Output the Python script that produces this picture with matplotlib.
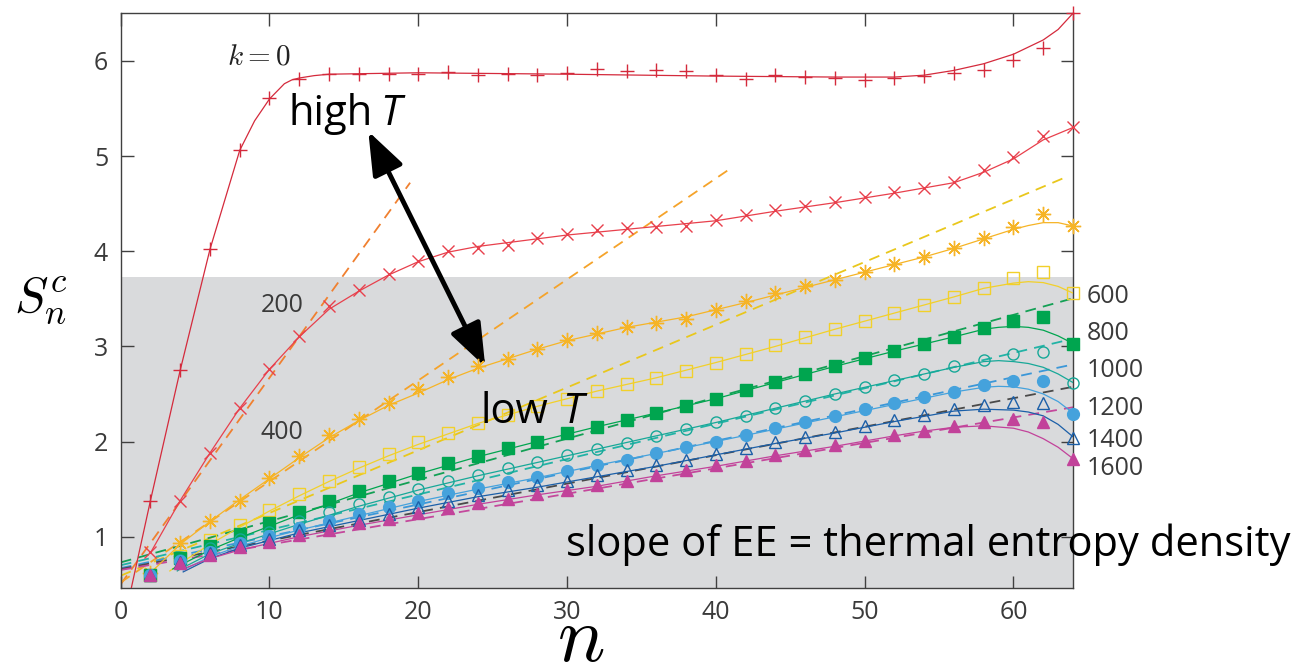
import numpy as np
import matplotlib
matplotlib.use("Agg")
import matplotlib.pyplot as plt

plt.rcParams["font.family"] = ["Open Sans", "DejaVu Sans"]
plt.rcParams["mathtext.fontset"] = "cm"

# ---------------- data ----------------
# subsystem sizes where the entanglement entropy was sampled
n_sites = np.arange(2, 65, 2)

# sampled entropies S_n^c for each temperature label
S_k0 = [1.38, 2.75, 4.02, 5.06, 5.61, 5.81, 5.86, 5.86, 5.86, 5.86, 5.88, 5.85, 5.86, 5.855,
        5.875, 5.91, 5.895, 5.90, 5.895, 5.85, 5.81, 5.85, 5.835, 5.815, 5.80, 5.815, 5.84,
        5.87, 5.905, 6.01, 6.14, 6.50]
S_200 = [0.84, 1.37, 1.875, 2.355, 2.76, 3.11, 3.42, 3.59, 3.76, 3.90, 4.005, 4.03, 4.07, 4.14,
         4.18, 4.22, 4.24, 4.25, 4.26, 4.33, 4.38, 4.43, 4.47, 4.52, 4.57, 4.625, 4.66, 4.73,
         4.85, 4.99, 5.21, 5.30]
S_400 = [0.62, 0.93, 1.16, 1.38, 1.62, 1.845, 2.07, 2.24, 2.41, 2.55, 2.68, 2.79, 2.87, 2.97,
         3.07, 3.14, 3.20, 3.25, 3.29, 3.38, 3.48, 3.56, 3.63, 3.70, 3.78, 3.87, 3.94, 4.03,
         4.14, 4.25, 4.39, 4.265]
S_600 = [0.60, 0.80, 0.96, 1.12, 1.28, 1.45, 1.59, 1.73, 1.87, 1.99, 2.09, 2.19, 2.28, 2.37,
         2.45, 2.53, 2.60, 2.67, 2.74, 2.83, 2.92, 3.01, 3.10, 3.18, 3.27, 3.35, 3.43, 3.52,
         3.61, 3.715, 3.785, 3.56]
S_800 = [0.60, 0.78, 0.90, 1.03, 1.14, 1.26, 1.38, 1.48, 1.58, 1.67, 1.77, 1.85, 1.93, 2.00,
         2.085, 2.155, 2.23, 2.30, 2.37, 2.45, 2.54, 2.63, 2.71, 2.79, 2.88, 2.955, 3.024, 3.10,
         3.19, 3.27, 3.31, 3.03]
S_1000 = [0.60, 0.76, 0.88, 0.98, 1.05, 1.16, 1.26, 1.34, 1.42, 1.50, 1.58, 1.645, 1.72, 1.78,
          1.86, 1.92, 1.98, 2.06, 2.13, 2.20, 2.27, 2.35, 2.43, 2.50, 2.57, 2.65, 2.71, 2.79,
          2.86, 2.92, 2.94, 2.62]
S_1200 = [0.60, 0.74, 0.84, 0.93, 1.01, 1.09, 1.17, 1.24, 1.31, 1.38, 1.455, 1.51, 1.57, 1.63,
          1.69, 1.75, 1.81, 1.875, 1.945, 2.00, 2.07, 2.14, 2.20, 2.27, 2.34, 2.40, 2.47, 2.52,
          2.59, 2.64, 2.64, 2.29]
S_1400 = [0.60, 0.73, 0.83, 0.91, 0.98, 1.07, 1.12, 1.18, 1.24, 1.31, 1.38, 1.44, 1.49, 1.54,
          1.58, 1.645, 1.70, 1.75, 1.81, 1.87, 1.93, 1.99, 2.05, 2.10, 2.16, 2.225, 2.28, 2.34,
          2.38, 2.42, 2.41, 2.04]
S_1600 = [0.60, 0.72, 0.81, 0.89, 0.945, 1.02, 1.07, 1.14, 1.19, 1.245, 1.30, 1.35, 1.40, 1.45,
          1.49, 1.54, 1.59, 1.645, 1.70, 1.75, 1.80, 1.86, 1.91, 1.96, 2.01, 2.07, 2.11, 2.165,
          2.21, 2.24, 2.21, 1.82]

# smooth fitted curves (solid lines)
fit_n_k0 = [0.6, 2, 4, 6, 8, 9, 10, 11, 11.5, 12, 13, 14, 20, 30, 40, 44, 48, 52, 54, 56, 58, 60, 62, 63, 64]
fit_S_k0 = [0.38, 1.38, 2.75, 4.02, 5.06, 5.37, 5.60, 5.76, 5.80, 5.82, 5.845, 5.86, 5.875, 5.86,
            5.84, 5.835, 5.83, 5.83, 5.85, 5.90, 5.97, 6.07, 6.22, 6.33, 6.50]
fit_n_200 = [2, 4, 6, 8, 10, 12, 14, 16, 18, 20, 22, 24, 26, 28, 30, 32, 34, 36, 38, 40, 44, 48,
             52, 56, 58, 60, 62, 64]
fit_S_200 = [0.83, 1.38, 1.88, 2.35, 2.76, 3.10, 3.39, 3.58, 3.75, 3.89, 3.99, 4.05, 4.09, 4.13,
             4.17, 4.20, 4.23, 4.26, 4.29, 4.32, 4.42, 4.51, 4.61, 4.72, 4.83, 4.97, 5.17, 5.30]
fit_n_400 = [2, 4, 6, 8, 10, 12, 14, 16, 18, 20, 22, 24, 26, 28, 30, 34, 38, 42, 46, 50, 54, 56,
             58, 60, 61, 62, 63, 64]
fit_S_400 = [0.62, 0.92, 1.16, 1.39, 1.61, 1.83, 2.04, 2.22, 2.38, 2.51, 2.65, 2.77, 2.87, 2.97,
             3.06, 3.20, 3.31, 3.46, 3.62, 3.78, 3.94, 4.03, 4.13, 4.23, 4.27, 4.30, 4.30, 4.265]
fit_n_600 = [3.3, 4, 6, 8, 10, 12, 14, 16, 18, 20, 24, 28, 32, 36, 40, 44, 48, 52, 56, 58, 60,
             61, 62, 63, 64]
fit_S_600 = [0.64, 0.72, 0.92, 1.10, 1.27, 1.43, 1.58, 1.72, 1.85, 1.97, 2.19, 2.37, 2.53, 2.67,
             2.83, 3.00, 3.18, 3.35, 3.52, 3.61, 3.665, 3.68, 3.67, 3.63, 3.56]
fit_n_800 = [3.5, 4, 6, 8, 10, 12, 16, 20, 24, 28, 32, 36, 40, 44, 48, 52, 56, 58, 59, 60, 61,
             62, 63, 64]
fit_S_800 = [0.66, 0.70, 0.86, 0.99, 1.11, 1.23, 1.46, 1.66, 1.84, 2.00, 2.155, 2.30, 2.45, 2.62,
             2.79, 2.95, 3.10, 3.18, 3.20, 3.21, 3.20, 3.17, 3.11, 3.03]
fit_n_1000 = [3.8, 4, 6, 8, 10, 12, 16, 20, 24, 28, 32, 36, 40, 44, 48, 52, 56, 58, 59, 60, 61,
              62, 63, 64]
fit_S_1000 = [0.64, 0.66, 0.82, 0.93, 1.03, 1.13, 1.32, 1.49, 1.64, 1.78, 1.92, 2.06, 2.20, 2.35,
              2.50, 2.64, 2.78, 2.84, 2.85, 2.84, 2.82, 2.78, 2.71, 2.62]
fit_n_1200 = [4.2, 6, 8, 10, 12, 16, 20, 24, 28, 32, 36, 40, 44, 48, 52, 56, 58, 59, 60, 61, 62,
              63, 64]
fit_S_1200 = [0.65, 0.79, 0.90, 0.99, 1.07, 1.22, 1.37, 1.50, 1.62, 1.75, 1.875, 2.00, 2.13, 2.26,
              2.39, 2.52, 2.57, 2.58, 2.575, 2.55, 2.50, 2.42, 2.30]
fit_n_1400 = [4.2, 6, 8, 10, 12, 16, 20, 24, 28, 32, 36, 40, 44, 48, 52, 56, 58, 60, 61, 62, 63, 64]
fit_S_1400 = [0.63, 0.77, 0.88, 0.96, 1.04, 1.17, 1.30, 1.42, 1.52, 1.63, 1.74, 1.86, 1.98, 2.09,
              2.21, 2.32, 2.34, 2.33, 2.31, 2.27, 2.18, 2.05]
fit_n_1600 = [4.5, 6, 8, 10, 12, 16, 20, 24, 28, 32, 36, 40, 44, 48, 52, 54, 56, 58, 60, 61, 62, 63, 64]
fit_S_1600 = [0.68, 0.77, 0.86, 0.93, 1.00, 1.12, 1.23, 1.34, 1.44, 1.53, 1.64, 1.74, 1.85, 1.95,
              2.06, 2.11, 2.15, 2.165, 2.14, 2.10, 2.03, 1.94, 1.82]

# linear (volume-law) fits, given by their two end points
lin_n = {"200": (0, 19.45), "400": (0, 40.8), "600": (0, 63.7), "800": (0, 64),
         "1000": (0, 64), "1200": (0, 64), "1400": (0, 64), "1600": (0, 64)}
lin_S = {"200": (0.50, 4.72), "400": (0.52, 4.85), "600": (0.59, 4.79), "800": (0.73, 3.505),
         "1000": (0.70, 3.08), "1200": (0.67, 2.81), "1400": (0.66, 2.575), "1600": (0.65, 2.36)}

temp_labels = ["600", "800", "1000", "1200", "1400", "1600"]
temp_label_y = [3.52, 3.14, 2.75, 2.35, 2.015, 1.72]

# ---------------- styling ----------------
series = [
    # key, values, curve n, curve S, marker, colour, filled, size, dashed colour
    ("k0", S_k0, fit_n_k0, fit_S_k0, "+", "#d42a3c", False, 10, None),
    ("200", S_200, fit_n_200, fit_S_200, "x", "#e8404c", False, 9, "#f08030"),
    ("400", S_400, fit_n_400, fit_S_400, (8, 2, 0), "#f6b426", False, 11, "#f5a32a"),
    ("600", S_600, fit_n_600, fit_S_600, "s", "#f2d02a", False, 8.5, "#e9c71c"),
    ("800", S_800, fit_n_800, fit_S_800, "s", "#00a54f", True, 8.5, "#13a055"),
    ("1000", S_1000, fit_n_1000, fit_S_1000, "o", "#17a898", False, 8, "#22b3a6"),
    ("1200", S_1200, fit_n_1200, fit_S_1200, "o", "#45a2dc", True, 8.5, "#3b97d8"),
    ("1400", S_1400, fit_n_1400, fit_S_1400, "^", "#1b5fa8", False, 8, "#4a4a4a"),
    ("1600", S_1600, fit_n_1600, fit_S_1600, "^", "#c2429a", True, 8, "#c4489c"),
]

W, H = 1304, 663
fig = plt.figure(figsize=(W / 100, H / 100), dpi=100)
left, right, bottom, top = 120.7, 1073.3, 587.7, 13.3
ax = fig.add_axes([left / W, 1 - bottom / H, (right - left) / W, (bottom - top) / H])
ax.set_xlim(0, 64.02)
ax.set_ylim(0.464, 6.50)

# shaded low-temperature band
ax.axhspan(0.464, 3.73, color="#d9dadc", zorder=0, lw=0)

# dashed linear fits
for key, *_rest in series:
    if key in lin_n:
        dcol = _rest[-1]
        ax.plot(lin_n[key], lin_S[key], ls=(0, (6, 4)), lw=1.3, color=dcol, zorder=2)

# solid fitted curves
for key, vals, cn, cs, mk, col, filled, ms, dcol in series:
    ax.plot(cn, cs, "-", lw=0.9, color=col, zorder=3)

# sampled points
for key, vals, cn, cs, mk, col, filled, ms, dcol in series:
    ax.plot(n_sites, vals, ls="none", marker=mk, ms=ms, mew=1.0,
            mec=col, mfc=col if filled else "none", zorder=4, clip_on=False)

# axes cosmetics
for sp in ax.spines.values():
    sp.set_color("#404040")
    sp.set_linewidth(1.0)
ax.set_xticks([0, 10, 20, 30, 40, 50, 60])
ax.set_yticks([1, 2, 3, 4, 5, 6])
ax.tick_params(direction="in", length=9, width=1, color="#404040", top=True, right=True,
               labelsize=18, labelcolor="#3a3a3a")
ax.tick_params(axis="x", pad=9)
ax.tick_params(axis="y", pad=9)

# temperature labels at the right edge
for lab, yv in zip(temp_labels, temp_label_y):
    ax.text(64.9, yv, lab, fontsize=18, color="#3a3a3a", ha="left", va="center", clip_on=False)
ax.text(10.85, 3.43, "200", fontsize=18, color="#3a3a3a", ha="center", va="center")
ax.text(10.85, 2.10, "400", fontsize=18, color="#3a3a3a", ha="center", va="center")
ax.text(9.25, 6.04, r"$k=\mathsf{0}$", fontsize=21, color="#222222", ha="center", va="center")

# double-headed arrow between the high and low temperature regimes
ax.annotate("", xy=(16.64, 5.26), xytext=(24.5, 2.785),
            arrowprops=dict(arrowstyle="<|-|>,head_length=0.8,head_width=0.3",
                            lw=3.5, color="black", mutation_scale=33,
                            shrinkA=0, shrinkB=0))

def fx(px):
    return px / W

def fy(py):
    return 1 - py / H

fig.text(fx(288), fy(125), "high", fontsize=30, color="black", va="baseline", ha="left")
fig.text(fx(380), fy(125), "T", fontsize=30, style="italic", color="black", va="baseline", ha="left")
fig.text(fx(480), fy(423), "low", fontsize=30, color="black", va="baseline", ha="left")
fig.text(fx(562), fy(423), "T", fontsize=30, style="italic", color="black", va="baseline", ha="left")
fig.text(fx(566), fy(556), "slope of EE = thermal entropy density", fontsize=30,
         color="black", va="baseline", ha="left")

# axis labels
fig.text(fx(14), fy(312), r"$S_n^c$", fontsize=36, color="black", va="baseline", ha="left")
fig.text(fx(581), fy(661), r"$n$", fontsize=57, color="black", va="baseline", ha="center")

fig.savefig("out.png", dpi=100)
